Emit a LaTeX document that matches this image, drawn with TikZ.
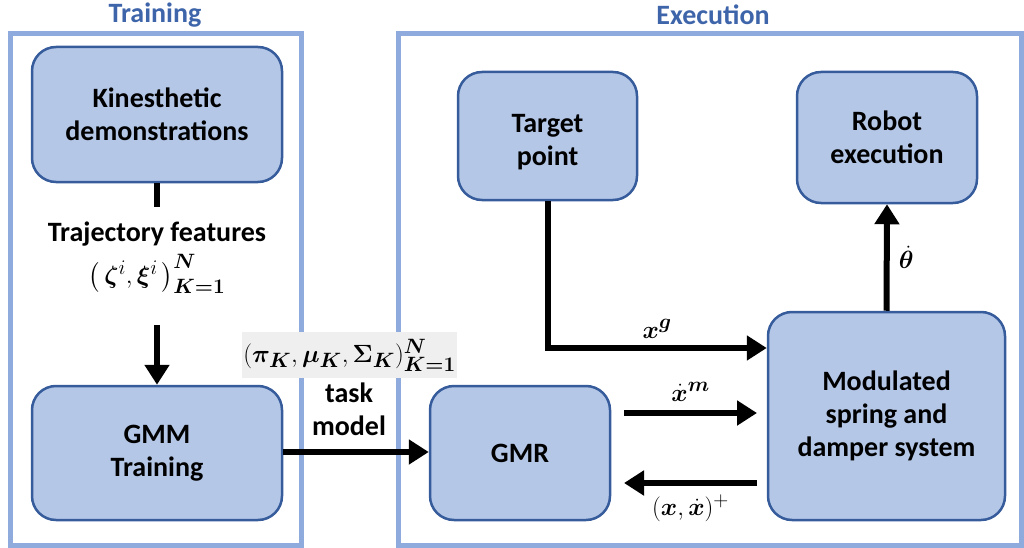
\documentclass[tikz,border=0pt]{standalone}
\usepackage{amsmath,bm,xcolor}
\usepackage{fontspec}
\setmainfont{Carlito}
\usetikzlibrary{arrows.meta,positioning}

\definecolor{boxfill}{HTML}{B4C7E7}
\definecolor{boxline}{HTML}{365C9C}
\definecolor{framecol}{HTML}{8FAADC}
\definecolor{titlecol}{HTML}{3E65AA}
\definecolor{labelbg}{HTML}{EFEFEF}

\tikzset{
    block/.style={draw=boxline, line width=2.5pt, fill=boxfill, rounded corners=24pt,
        align=center, font=\fontsize{28}{33}\selectfont\bfseries},
    frame/.style={draw=framecol, line width=5pt},
    title/.style={text=titlecol, font=\fontsize{28}{30}\selectfont\bfseries},
    flow/.style={line width=6pt, -{Triangle[length=20pt,width=24pt]}},
    txt/.style={font=\fontsize{28}{33}\selectfont\bfseries, align=center, inner sep=1pt},
    mathlbl/.style={font=\fontsize{32}{36}\selectfont, inner sep=1pt},
}

\begin{document}
\begin{tikzpicture}[x=1pt, y=-1pt]
                \useasboundingbox (0,0) rectangle (1024,548);

                % the two stages
                \draw[frame] (10,34) rectangle (301,545);
                \draw[frame] (398,34) rectangle (1021,545);
                \node[title] (ttrain) at (155,15) {Training};
                \node[title] (texec) at (713,15) {Execution};

                % training side
                \node[block, minimum width=250pt, minimum height=135pt] (kin) at (157,114.5) {Kinesthetic\\demonstrations};
                \node[block, minimum width=250pt, minimum height=134pt] (gmm) at (157,453) {GMM\\Training};
                \node[txt] (feat) at (157,234) {Trajectory features};
                \node[mathlbl] (zeta) at (157,274) {$\left(\,\bm{\zeta}^{i},\bm{\xi}^{i}\,\right)^{\bm{N}}_{\bm{K=1}}$};
                \coordinate (kout) at (157,207);
                \coordinate (gin) at (157,325);

                % execution side
                \node[block, minimum width=179pt, minimum height=128pt] (tp) at (547.5,136) {\rule{0pt}{30pt}Target\\point};
                \node[block, minimum width=180pt, minimum height=131pt] (rob) at (887,137.5) {Robot\\execution};
                \node[block, minimum width=180pt, minimum height=134pt] (gmr) at (520,453) {GMR};
                \node[block, minimum width=237pt, minimum height=208pt] (msd) at (886.5,416) {Modulated\\spring and\\damper system};

                % task model handed over
                \node[mathlbl, fill=labelbg, minimum width=215pt, minimum height=46pt] (par) at (349.5,355) {$(\bm{\pi}_{\bm{K}},\bm{\mu}_{\bm{K}},\bm{\Sigma}_{\bm{K}})^{\bm{N}}_{\bm{K=1}}$};
                \node[txt] (task) at (349,409) {task\\model};

                \draw[line width=6pt] (kin.south) -- (kout);
                \draw[flow] (gin) -- (gmm.north);
                \draw[flow] (gmm.east |- 0,452) -- (gmr.west |- 0,452);

                \draw[flow] (tp.south) |- (msd.west |- 0,348) node[pos=0.75, above=6pt, mathlbl] {$\bm{x}^{\bm{g}}$};
                \draw[flow] (msd.north) -- (rob.south) node[midway, right=8pt, mathlbl] {$\dot{\bm{\theta}}$};
                \draw[flow] (624,413) -- (757,413) node[midway, above=8pt, mathlbl] {$\dot{\bm{x}}^{\bm{m}}$};
                \draw[flow] (757,483) -- (624,483) node[midway, below=8pt, mathlbl] {$(\bm{x},\dot{\bm{x}})^{+}$};
\end{tikzpicture}
\end{document}
